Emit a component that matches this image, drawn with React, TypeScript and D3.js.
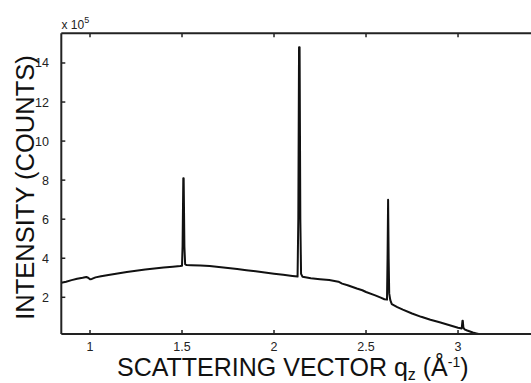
import React from "react";
import * as d3 from "d3";

const qValues = [
  0.844, 0.87, 0.9, 0.93, 0.96, 0.98, 0.99, 1.0, 1.01, 1.03, 1.06, 1.1, 1.15, 1.2, 1.25, 1.3, 1.35, 1.4, 1.45,
  1.49, 1.5, 1.503, 1.507, 1.509, 1.513, 1.517, 1.525, 1.55, 1.6, 1.65, 1.7, 1.75, 1.8, 1.85, 1.9, 1.95, 2.0,
  2.05, 2.1, 2.128, 2.132, 2.136, 2.139, 2.143, 2.147, 2.155, 2.2, 2.25, 2.3, 2.35, 2.37, 2.4, 2.45, 2.48, 2.5,
  2.55, 2.58, 2.6, 2.614, 2.617, 2.62, 2.623, 2.626, 2.632, 2.64, 2.67, 2.7, 2.75, 2.8, 2.85, 2.9, 2.95, 3.0,
  3.02, 3.024, 3.026, 3.029, 3.035, 3.05, 3.08, 3.1, 3.13,
];
const intensity = [
  2.75, 2.8, 2.88, 2.95, 3.0, 3.04, 3.0, 2.92, 2.94, 3.02, 3.08, 3.14, 3.22, 3.3, 3.36, 3.42, 3.47, 3.52, 3.57,
  3.6, 3.62, 4.6, 8.1, 8.1, 4.6, 3.7, 3.65, 3.64, 3.63, 3.6, 3.55, 3.5, 3.45, 3.39, 3.33, 3.27, 3.21,
  3.15, 3.09, 3.06, 6.0, 14.8, 14.8, 6.0, 3.2, 3.05, 2.98, 2.93, 2.88, 2.8, 2.7, 2.62, 2.45, 2.36, 2.27,
  2.1, 1.98, 1.9, 1.88, 4.0, 7.0, 4.0, 2.2, 1.85, 1.65, 1.5, 1.37, 1.17, 1.0, 0.85, 0.72, 0.58, 0.44,
  0.4, 0.8, 0.8, 0.45, 0.36, 0.3, 0.2, 0.15, 0.08,
];
const xTicks = [1, 1.5, 2, 2.5, 3];
const xTickLabels = ["1", "1.5", "2", "2.5", "3"];
const yTicks = [2, 4, 6, 8, 10, 12, 14];
const yTickLabels = ["2", "4", "6", "8", "10", "12", "14"];

export default function App() {
  const left = 61.3, right = 532, top = 33.3, bottom = 334;
  const x = d3.scaleLinear().domain([0.844, 3.402]).range([left, right]);
  const y = d3.scaleLinear().domain([0.12, 15.52]).range([bottom, top]);
  const pts = qValues.map((q, i) => [q, intensity[i]] as [number, number]);
  const line = d3.line<[number, number]>().x((d) => x(d[0])).y((d) => y(d[1]));
  const font = "'Liberation Sans', Arial, sans-serif";
  const axisColor = "#222";
  const tl = 4;
  return (
    <svg width={531} height={383} style={{ position: "absolute", left: 0, top: 0, background: "#fff" }}>
      <defs>
        <clipPath id="plot">
          <rect x={left} y={top} width={right - left} height={bottom - top} />
        </clipPath>
      </defs>
      <path d={line(pts) || ""} fill="none" stroke="#111" strokeWidth={2} strokeLinejoin="round" clipPath="url(#plot)" />
      <line x1={left} x2={right} y1={bottom} y2={bottom} stroke={axisColor} strokeWidth={2} />
      <line x1={left} x2={right} y1={top} y2={top} stroke={axisColor} strokeWidth={2} />
      <line x1={left} x2={left} y1={top} y2={bottom} stroke={axisColor} strokeWidth={2} />
      {xTicks.map((t, i) => (
        <g key={"xt" + i}>
          <line x1={x(t)} x2={x(t)} y1={bottom} y2={bottom - tl} stroke={axisColor} strokeWidth={1.5} />
          <line x1={x(t)} x2={x(t)} y1={top} y2={top + tl} stroke={axisColor} strokeWidth={1.5} />
          <text x={x(t)} y={351} textAnchor="middle" fontFamily={font} fontSize={12.5} fill="#222">
            {xTickLabels[i]}
          </text>
        </g>
      ))}
      {yTicks.map((t, i) => (
        <g key={"yt" + i}>
          <line x1={left} x2={left + tl} y1={y(t)} y2={y(t)} stroke={axisColor} strokeWidth={1.5} />
          <text x={49} y={y(t) + 4.5} textAnchor="end" fontFamily={font} fontSize={12.5} fill="#222">
            {yTickLabels[i]}
          </text>
        </g>
      ))}
      <text x={61.5} y={28.5} fontFamily={font} fontSize={12} fill="#222">
        x 10
        <tspan dy={-6} fontSize={9}>5</tspan>
      </text>
      <text x={117} y={376} fontFamily={font} fontSize={25} fill="#111">
        SCATTERING VECTOR q
        <tspan dy={4} fontSize={16}>z</tspan>
        <tspan dy={-4}> (Å</tspan>
        <tspan dy={-9} fontSize={14}>-1</tspan>
        <tspan dy={9}>)</tspan>
      </text>
      <text
        transform={`translate(34, ${(55 + 320) / 2}) rotate(-90)`}
        textAnchor="middle"
        fontFamily={font}
        fontSize={25.5}
        fill="#111"
      >
        INTENSITY (COUNTS)
      </text>
    </svg>
  );
}
